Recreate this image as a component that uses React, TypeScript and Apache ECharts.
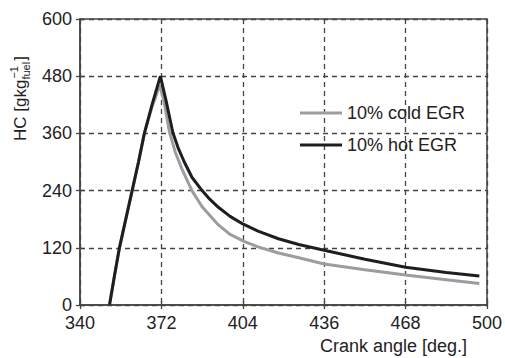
import React, { useEffect, useRef } from "react";
import * as echarts from "echarts";

const xTicks = [340, 372, 404, 436, 468, 500];
const yTicks = [0, 120, 240, 360, 480, 600];
const seriesNames = ["10% cold EGR", "10% hot EGR"];

const coldEGR: [number, number][] = [
  [351.6, 0], [353.5, 60], [355.5, 120], [358, 180], [360.5, 240], [363, 300], [365.3, 360],
  [368.3, 415], [371.4, 462], [373, 428], [375.2, 362], [377.5, 320], [380.1, 285],
  [384, 240], [388, 206], [394.4, 168], [399, 148], [404.7, 133], [410, 122], [418, 109],
  [426, 99], [436, 86], [452, 74], [468, 63], [484, 53], [497, 45],
];

const hotEGR: [number, number][] = [
  [351.6, 0], [353.5, 60], [355.5, 120], [358, 180], [360.5, 240], [363, 300], [365.3, 360],
  [368.3, 420], [371.6, 480], [373.7, 432], [376.5, 362], [378.7, 328], [381, 300],
  [384, 268], [388, 240], [391, 222], [394.4, 205], [399, 186], [404, 170], [410, 155],
  [418, 139], [426, 127], [436, 115], [452, 96], [468, 79], [484, 68], [497, 61],
];

const FONT = '"Liberation Sans", Arial, sans-serif';
const FS = 18;
const YNAME_FS = 17;
const SMALL = 11;
const TEXT_COLOR = "#222";
const AXIS_COLOR = "#444";

function measure(s: string, size: number): number {
  const c = document.createElement("canvas").getContext("2d");
  if (!c) return s.length * size * 0.55;
  c.font = `${size}px "Liberation Sans"`;
  return c.measureText(s).width;
}

export default function App() {
  const ref = useRef<HTMLDivElement>(null);
  useEffect(() => {
    if (!ref.current) return;
    const chart = echarts.init(ref.current, null, { renderer: "svg" });

    const main1 = "HC [gkg";
    const w1 = measure(main1, YNAME_FS);
    const wSub = measure("fuel", SMALL);
    const wSup = measure("\u22121", SMALL);
    const endPos = w1 + Math.max(wSub, wSup) + 1;

    const axisCommon = {
      type: "value" as const,
      axisLine: { show: true, lineStyle: { color: AXIS_COLOR, width: 1.5 } },
    };

    chart.setOption({
      animation: false,
      backgroundColor: "#fff",
      grid: {
        left: 80, right: 13, top: 19, bottom: 53,
        show: true, borderColor: AXIS_COLOR, borderWidth: 1.5,
      },
      legend: {
        orient: "vertical",
        left: 295,
        top: 98,
        icon: "rect",
        itemWidth: 42,
        itemHeight: 3,
        itemGap: 12,
        data: seriesNames,
        textStyle: { fontFamily: FONT, fontSize: FS, color: TEXT_COLOR, lineHeight: 20 },
      },
      xAxis: [
        {
          ...axisCommon,
          min: xTicks[0], max: xTicks[xTicks.length - 1], interval: 32,
          axisTick: { show: true, inside: false, length: 4, lineStyle: { color: AXIS_COLOR, width: 1.3 } },
          axisLabel: { fontFamily: FONT, fontSize: FS, color: TEXT_COLOR, margin: 9 },
          splitLine: { show: true, lineStyle: { type: [5, 4], color: AXIS_COLOR, width: 1.3 } },
        },
        {
          ...axisCommon,
          position: "bottom",
          min: xTicks[0], max: xTicks[xTicks.length - 1], interval: 32,
          axisLine: { show: false },
          axisTick: { show: true, inside: true, length: 4, lineStyle: { color: AXIS_COLOR, width: 1.3 } },
          axisLabel: { show: false },
          splitLine: { show: false },
        },
      ],
      yAxis: [
        {
          ...axisCommon,
          min: yTicks[0], max: yTicks[yTicks.length - 1], interval: 120,
          axisTick: { show: true, inside: false, length: 4, lineStyle: { color: AXIS_COLOR, width: 1.3 } },
          axisLabel: { fontFamily: FONT, fontSize: FS, color: TEXT_COLOR, margin: 8 },
          splitLine: { show: true, lineStyle: { type: [5, 4], color: AXIS_COLOR, width: 1.3 } },
        },
        {
          ...axisCommon,
          position: "left",
          min: yTicks[0], max: yTicks[yTicks.length - 1], interval: 120,
          axisLine: { show: false },
          axisTick: { show: true, inside: true, length: 4, lineStyle: { color: AXIS_COLOR, width: 1.3 } },
          axisLabel: { show: false },
          splitLine: { show: false },
        },
      ],
      series: [
        {
          name: seriesNames[0],
          type: "line",
          data: coldEGR,
          showSymbol: false,
          symbol: "none",
          color: "#9a9da1",
          lineStyle: { width: 3, color: "#9a9da1" },
          z: 3,
        },
        {
          name: seriesNames[1],
          type: "line",
          data: hotEGR,
          showSymbol: false,
          symbol: "none",
          color: "#1c1e20",
          lineStyle: { width: 3, color: "#1c1e20" },
          z: 4,
        },
      ],
      graphic: [
        {
          type: "text",
          right: 38,
          top: 337,
          style: { text: "Crank angle [deg.]", font: `${FS}px ${FONT}`, fill: TEXT_COLOR },
        },
        {
          type: "group",
          x: 20,
          y: 141,
          rotation: Math.PI / 2,
          children: [
            {
              type: "text",
              x: 0, y: 0,
              style: { text: main1, font: `${YNAME_FS}px ${FONT}`, fill: TEXT_COLOR, verticalAlign: "middle", align: "left" },
            },
            {
              type: "text",
              x: w1, y: 6,
              style: { text: "fuel", font: `${SMALL}px ${FONT}`, fill: TEXT_COLOR, verticalAlign: "middle", align: "left" },
            },
            {
              type: "text",
              x: w1 + 1, y: -6,
              style: { text: "\u22121", font: `${SMALL}px ${FONT}`, fill: TEXT_COLOR, verticalAlign: "middle", align: "left" },
            },
            {
              type: "text",
              x: endPos, y: 0,
              style: { text: "]", font: `${YNAME_FS}px ${FONT}`, fill: TEXT_COLOR, verticalAlign: "middle", align: "left" },
            },
          ],
        },
      ],
    });
    return () => chart.dispose();
  }, []);
  return (
    <div
      ref={ref}
      style={{ position: "fixed", left: 0, top: 0, width: 505, height: 358, background: "#fff" }}
    />
  );
}
